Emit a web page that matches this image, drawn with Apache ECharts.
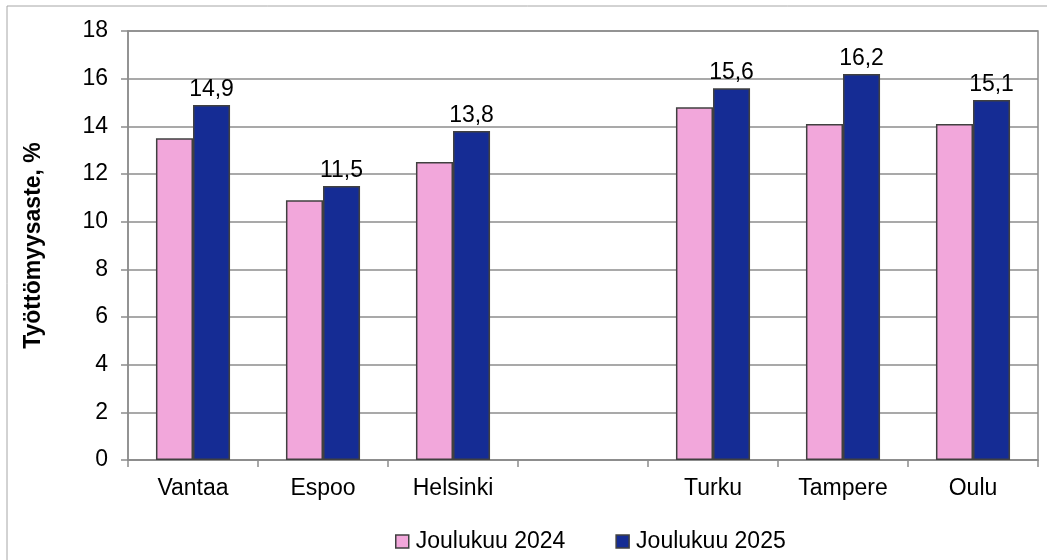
<!DOCTYPE html>
<html>
<head>
<meta charset="utf-8">
<script src="https://cdn.jsdelivr.net/npm/echarts@6/dist/echarts.min.js"></script>
<style>
  html, body { margin: 0; padding: 0; background: #fff; }
  #chart { width: 1047px; height: 560px; }
</style>
</head>
<body>
<div id="chart"></div>
<script>
const cities = ['Vantaa', 'Espoo', 'Helsinki', '', 'Turku', 'Tampere', 'Oulu'];
const dec2024 = [13.5, 10.9, 12.5, null, 14.8, 14.1, 14.1];
const dec2025 = [14.9, 11.5, 13.8, null, 15.6, 16.2, 15.1];
const seriesNames = ['Joulukuu 2024', 'Joulukuu 2025'];

const font = '"Liberation Sans", Arial, sans-serif';
const gridColor = '#8c8c8c';
const barBorder = '#404040';

const myChart = echarts.init(document.getElementById('chart'));
myChart.setOption({
  animation: false,
  textStyle: { fontFamily: font },
  graphic: [{
    type: 'rect',
    shape: { x: 7, y: 6, width: 1100, height: 600 },
    style: { fill: 'none', stroke: '#a6a6a6', lineWidth: 1 },
    silent: true
  }],
  grid: {
    left: 128, right: 9, top: 31, bottom: 100,
    show: true, borderColor: gridColor, borderWidth: 1.5
  },
  legend: {
    bottom: 2,
    left: 390,
    itemWidth: 13,
    itemHeight: 13,
    itemGap: 50,
    icon: 'rect',
    textStyle: { fontSize: 23, color: '#000', fontFamily: font, padding: [0, 0, 0, 2] },
    data: seriesNames.map(n => ({ name: n, itemStyle: { borderColor: barBorder, borderWidth: 1.5 } }))
  },
  xAxis: {
    type: 'category',
    data: cities,
    axisLine: { lineStyle: { color: gridColor, width: 1.5 } },
    axisTick: { show: true, length: 7, lineStyle: { color: gridColor, width: 1.5 } },
    axisLabel: { fontSize: 23, color: '#000', margin: 17, fontFamily: font }
  },
  yAxis: {
    type: 'value',
    min: 0, max: 18, interval: 2,
    name: 'Työttömyysaste, %',
    nameLocation: 'middle',
    nameGap: 83,
    nameTextStyle: { fontSize: 23, fontWeight: 'bold', color: '#000', fontFamily: font },
    axisLine: { show: true, lineStyle: { color: gridColor, width: 1.5 } },
    axisTick: { show: true, length: 7, lineStyle: { color: gridColor, width: 1.5 } },
    axisLabel: { fontSize: 23, color: '#000', margin: 20, fontFamily: font },
    splitLine: { lineStyle: { color: gridColor, width: 1.5 } }
  },
  series: [
    {
      name: seriesNames[0],
      type: 'bar',
      data: dec2024,
      barGap: '0%',
      barCategoryGap: '43%',
      itemStyle: { color: '#f2a7db', borderColor: barBorder, borderWidth: 1.5 }
    },
    {
      name: seriesNames[1],
      type: 'bar',
      data: dec2025,
      itemStyle: { color: '#152c94', borderColor: barBorder, borderWidth: 1.5 },
      label: {
        show: true,
        position: 'top',
        distance: 4,
        fontSize: 23,
        color: '#000',
        fontFamily: font,
        formatter: p => p.value == null ? '' : String(p.value).replace('.', ',')
      }
    }
  ]
});
</script>
</body>
</html>
